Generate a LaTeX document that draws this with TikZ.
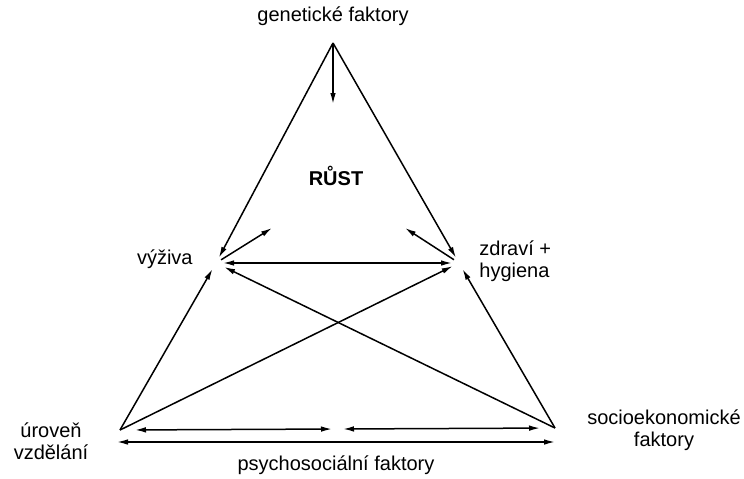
\documentclass[tikz,border=0pt]{standalone}
\usepackage{fontspec}
\setmainfont{Liberation Sans}
\usetikzlibrary{arrows.meta}

\begin{document}
\begin{tikzpicture} [x=0.5pt,y=-0.5pt,
			factor/.style={font=\fontsize{10}{10.8}\selectfont,inner sep=0pt,align=center},
			flow/.style={-{Latex[length=5.5pt,width=2.8pt]},line width=0.75pt},
			both/.style={{Latex[length=5.5pt,width=2.8pt]}-{Latex[length=5.5pt,width=2.8pt]},line width=0.75pt}
		]
			\useasboundingbox (0,0) rectangle (744,478);
			% corners and ends of the arrows
			\coordinate (ptApex) at (333,43);
			\coordinate (ptRust) at (333,104);
			\coordinate (ptVyziva) at (216,263);
			\coordinate (ptZdravi) at (459,263);
			\coordinate (ptUroven) at (120,430);
			\coordinate (ptSocio) at (555,428);
			\coordinate (ptVyzivaOut) at (272,228);
			\coordinate (ptZdraviOut) at (405,228);
			\coordinate (ptMid) at (337.5,429);
			\coordinate (ptPsyL) at (117,442);
			\coordinate (ptPsyR) at (555,442);
			% texts
			\node at (333,16) [factor] (nodeGenetic) {genetické faktory};
			\node at (336,176) [factor,font=\fontsize{10}{10.8}\selectfont\bfseries] (nodeRust) {RŮST};
			\node at (193,259) [factor,anchor=east] (nodeVyziva) {výživa};
			\node at (479,261) [factor,anchor=west,align=left] (nodeZdravi) {zdraví +\\hygiena};
			\node at (51,441) [factor] (nodeUroven) {úroveň\\vzdělání};
			\node at (664,430) [factor] (nodeSocio) {socioekonomické\\faktory};
			\node at (336,465) [factor] (nodePsycho) {psychosociální faktory};
			% arrows
			\path[flow] (ptApex) edge [shorten >=3pt] (ptVyziva);
			\path[flow] (ptApex) edge [shorten >=3pt] (ptZdravi);
			\path[flow] (ptApex) edge (ptRust);
			\path[both] (ptVyziva) edge [shorten <=3.5pt,shorten >=3.5pt] (ptZdravi);
			\path[flow] (ptVyziva) edge [shorten <=3pt] (ptVyzivaOut);
			\path[flow] (ptZdravi) edge [shorten <=3pt] (ptZdraviOut);
			\path[flow] (ptUroven) edge [shorten >=3.5pt] (ptVyziva);
			\path[flow] (ptUroven) edge [shorten >=3.5pt] (ptZdravi);
			\path[flow] (ptSocio) edge [shorten >=4.5pt] (ptVyziva);
			\path[flow] (ptSocio) edge [shorten >=3.5pt] (ptZdravi);
			\path[both] (ptUroven) edge [shorten <=7.5pt,shorten >=2.75pt] (ptMid);
			\path[both] (ptMid) edge [shorten <=2.75pt,shorten >=7.5pt] (ptSocio);
			\path[both] (ptPsyL) edge (ptPsyR);
		\end{tikzpicture}
\end{document}
